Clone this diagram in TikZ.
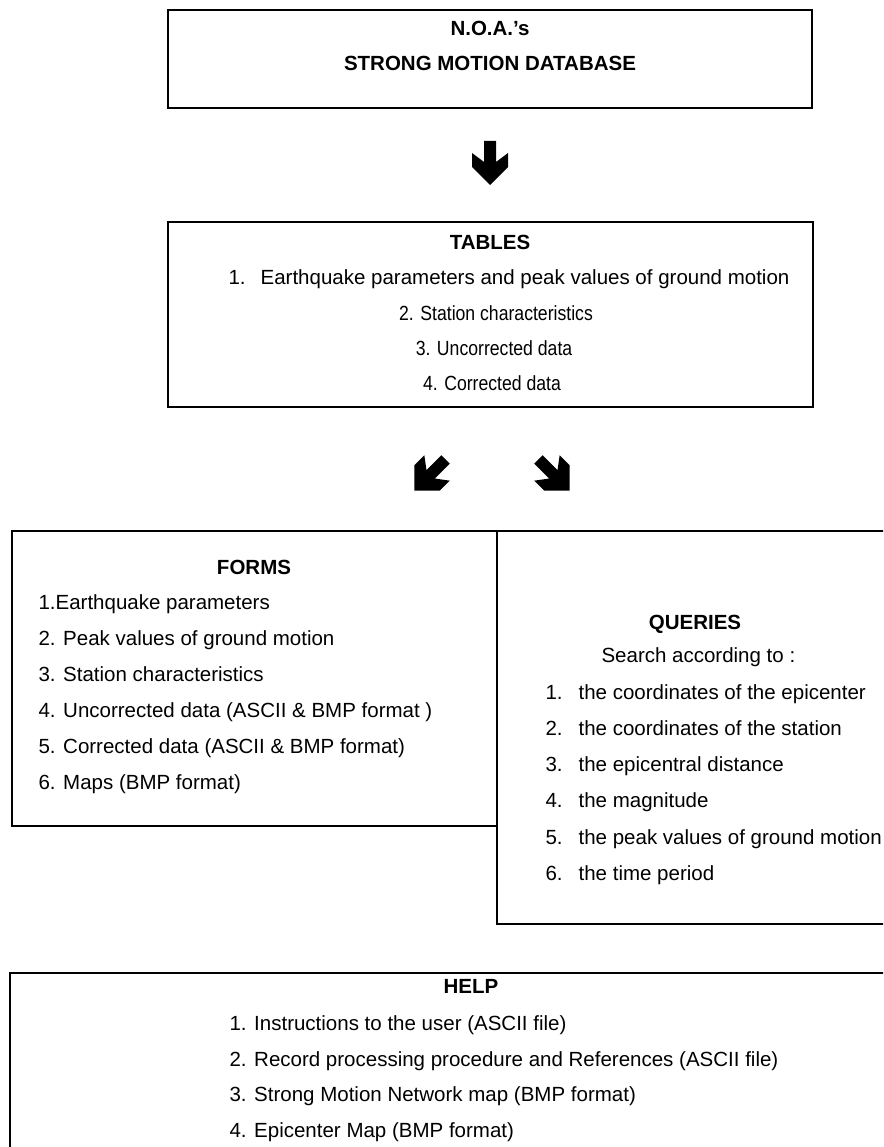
\documentclass[tikz,border=0pt]{standalone}
\usepackage{fontspec}
\setmainfont{Liberation Sans}
\newfontfamily\narrowsans[FakeStretch=0.86]{Liberation Sans}

\tikzset{
  frame/.style={draw, line width=1.1pt, inner sep=0pt},
  title/.style={font=\fontsize{20.5}{24}\selectfont\bfseries, anchor=base},
  item/.style={font=\fontsize{20.5}{24}\selectfont, anchor=base west},
  narrowitem/.style={font=\fontsize{20.5}{24}\selectfont\narrowsans, anchor=base},
  blockarrow/.pic={\fill (-6,-22) -- (6,-22) -- (6,-1) -- (18,-10) -- (18,4) -- (0,22) -- (-18,4) -- (-18,-10) -- (-6,-1) -- cycle;}
}

\begin{document}
\begin{tikzpicture}[x=1pt,y=-1pt]

	\useasboundingbox (0,0) rectangle (883,1147);
	\clip (0,0) rectangle (883,1147);

	% frames
	\node[frame, minimum width=644pt, minimum height=98pt] (db) at (490,59) {};
	\node[frame, minimum width=645pt, minimum height=185pt] (tables) at (490.5,314.5) {};
	\node[frame, minimum width=485pt, minimum height=295pt] (forms) at (254.5,678.5) {};
	\node[frame, minimum width=423pt, minimum height=393pt] (queries) at (708.5,727.5) {};
	\node[frame, minimum width=910pt, minimum height=207pt] (help) at (465,1076.5) {};

	% database
	\node[title] (dbname) at (490,36) {N.O.A.'s};
	\node[title] (dbtitle) at (490,71) {STRONG MOTION DATABASE};

	\pic (down) at (490,163) {blockarrow};

	% tables
	\node[title] (tabtitle) at (490,250) {TABLES};
	\node[item] (tab1) at (225,285) {1.\hspace{15pt}Earthquake parameters and peak values of ground motion};
	\node[narrowitem] (tab2) at (496,320) {2. Station characteristics};
	\node[narrowitem] (tab3) at (494,355) {3. Uncorrected data};
	\node[narrowitem] (tab4) at (492,390) {4. Corrected data};

	\pic[rotate=-45] (toforms) at (430,475) {blockarrow};
	\pic[rotate=45] (toqueries) at (554,475) {blockarrow};

	% forms
	\node[title] (formtitle) at (254,574) {FORMS};
	\node[item] (form1) at (35,609) {1.Earthquake parameters};
	\node[item] (form2) at (35,645) {2. Peak values of ground motion};
	\node[item] (form3) at (35,681) {3. Station characteristics};
	\node[item] (form4) at (35,717) {4. Uncorrected data (ASCII \& BMP format )};
	\node[item] (form5) at (35,753) {5. Corrected data (ASCII \& BMP format)};
	\node[item] (form6) at (35,789) {6. Maps (BMP format)};

	% queries
	\node[title] (qtitle) at (695,629) {QUERIES};
	\node[item] (search) at (598,662) {Search according to :};
	\node[item] (q1) at (542,699) {1.\hspace{16pt}the coordinates of the epicenter};
	\node[item] (q2) at (542,735) {2.\hspace{16pt}the coordinates of the station};
	\node[item] (q3) at (542,771) {3.\hspace{16pt}the epicentral distance};
	\node[item] (q4) at (542,807) {4.\hspace{16pt}the magnitude};
	\node[item] (q5) at (542,844) {5.\hspace{16pt}the peak values of ground motion};
	\node[item] (q6) at (542,880) {6.\hspace{16pt}the time period};

	% help
	\node[title] (helptitle) at (471,993) {HELP};
	\node[item] (help1) at (226,1030) {1. Instructions to the user (ASCII file)};
	\node[item] (help2) at (226,1066) {2. Record processing procedure and References (ASCII file)};
	\node[item] (help3) at (226,1101) {3. Strong Motion Network map (BMP format)};
	\node[item] (help4) at (226,1137) {4. Epicenter Map (BMP format)};

\end{tikzpicture}
\end{document}
